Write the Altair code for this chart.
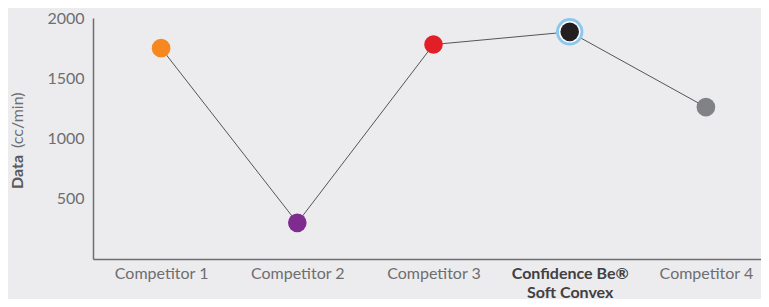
import altair as alt
import pandas as pd

categories = ["Competitor 1", "Competitor 2", "Competitor 3", "Confidence Be® Soft Convex", "Competitor 4"]
values = [1750, 300, 1780, 1885, 1260]
colors = ["#F7881F", "#7F2B8F", "#E21F26", "#231F20", "#808285"]
highlight = "Confidence Be® Soft Convex"
y_ticks = [500, 1000, 1500, 2000]

df = pd.DataFrame({"cat": categories, "val": values, "col": colors})

FONT = "Lato"
is_hl = f"datum.value == '{highlight}'"

x_enc = alt.X(
    "cat:N",
    sort=categories,
    scale=alt.Scale(type="point", padding=0.5, range=[0, 681]),
    axis=alt.Axis(
        title=None,
        labelAngle=0,
        labelFont=FONT,
        labelFontSize=16,
        labelPadding=6,
        labelLineHeight=19,
        labelExpr=f"{is_hl} ? ['Confidence Be®', 'Soft Convex'] : datum.value",
        labelFontWeight={"condition": {"test": is_hl, "value": "bold"}, "value": "normal"},
        labelColor={"condition": {"test": is_hl, "value": "#414042"}, "value": "#6D6E71"},
        ticks=False,
        grid=False,
        domainColor="#6D6E71",
        domainWidth=1.5,
        labelOverlap=False,
    ),
)
y_enc = alt.Y(
    "val:Q",
    scale=alt.Scale(domain=[0, 2000], nice=False),
    axis=alt.Axis(
        title=None,
        values=y_ticks,
        format="d",
        labelFont=FONT,
        labelFontSize=16,
        labelColor="#6D6E71",
        labelPadding=9,
        ticks=False,
        grid=False,
        domainColor="#6D6E71",
        domainWidth=1.5,
    ),
)

base = alt.Chart(df)
line = base.mark_line(color="#555555", strokeWidth=1).encode(x=x_enc, y=y_enc)
ring = base.transform_filter(alt.datum.cat == highlight).mark_circle(
    size=600, opacity=1, fill="#FFFFFF", stroke="#8DC8EC", strokeWidth=3
).encode(x=x_enc, y=y_enc)
dots = base.mark_circle(size=346, opacity=1).encode(
    x=x_enc, y=y_enc, color=alt.Color("col:N", scale=None)
)

t_bold = alt.Chart(pd.DataFrame({"t": ["Data"]})).mark_text(
    angle=270, align="left", baseline="middle", font=FONT, fontSize=16,
    fontWeight="bold", color="#58595B"
).encode(x=alt.value(-75), y=alt.value(171), text="t:N")
t_norm = alt.Chart(pd.DataFrame({"t": ["(cc/min)"]})).mark_text(
    angle=270, align="left", baseline="middle", font=FONT, fontSize=16,
    color="#6D6E71"
).encode(x=alt.value(-75), y=alt.value(130), text="t:N")

chart = alt.layer(line, ring, dots, t_bold, t_norm).properties(
    width=668,
    height=241,
    padding={"left": 85, "top": 10, "right": 0, "bottom": 40},
    autosize=alt.AutoSizeParams(type="none"),
    background="#ECECEE",
).configure_view(stroke=None)

chart.save("out.html", embed_options={"renderer": "svg", "actions": False})
